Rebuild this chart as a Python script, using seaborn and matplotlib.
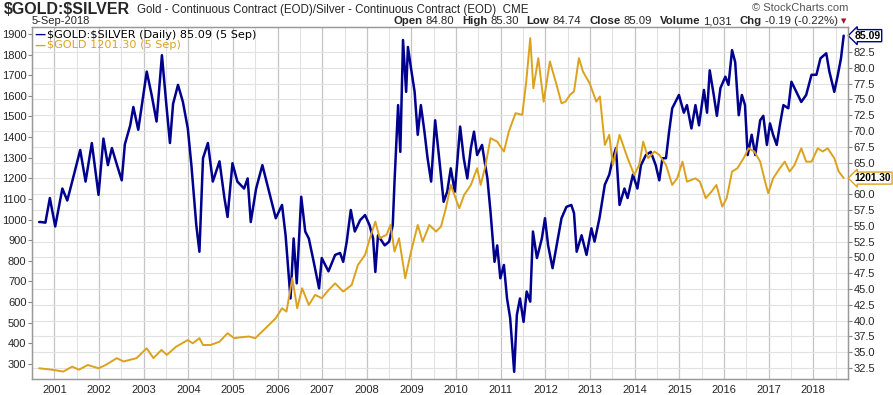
import matplotlib
matplotlib.use("Agg")
import matplotlib.pyplot as plt
import matplotlib.transforms as mtransforms
import seaborn as sns
import pandas as pd

# gold / silver ratio (right axis), decimal years
ratio_x = [2000.66, 2000.70, 2000.80, 2000.90, 2001.02, 2001.18, 2001.29, 2001.40, 2001.58, 2001.70,
           2001.84, 2001.99, 2002.10, 2002.20, 2002.29, 2002.40, 2002.51, 2002.58, 2002.70, 2002.77,
           2002.88, 2003.07, 2003.18, 2003.29, 2003.41, 2003.51, 2003.59, 2003.66, 2003.77, 2003.88,
           2003.99, 2004.07, 2004.18, 2004.25, 2004.33, 2004.44, 2004.55, 2004.70, 2004.81, 2004.88,
           2004.99, 2005.10, 2005.25, 2005.33, 2005.40, 2005.52, 2005.66, 2005.81, 2005.96, 2006.10,
           2006.18, 2006.29, 2006.36, 2006.43, 2006.53, 2006.62, 2006.70, 2006.81, 2006.93, 2006.99,
           2007.14, 2007.29, 2007.40, 2007.47, 2007.55, 2007.64, 2007.73, 2007.85, 2007.96, 2008.06,
           2008.14, 2008.19, 2008.25, 2008.40, 2008.50, 2008.58, 2008.62, 2008.70, 2008.75, 2008.81,
           2008.88, 2008.92, 2008.99, 2009.07, 2009.14, 2009.21, 2009.29, 2009.36, 2009.44, 2009.53,
           2009.62, 2009.72, 2009.80, 2009.88, 2009.97, 2010.02, 2010.09, 2010.17, 2010.25, 2010.33,
           2010.40, 2010.47, 2010.58, 2010.70, 2010.77, 2010.86, 2010.92, 2010.99, 2011.07, 2011.14,
           2011.21, 2011.30, 2011.36, 2011.43, 2011.51, 2011.58, 2011.66, 2011.72, 2011.81, 2011.92,
           2011.99, 2012.06, 2012.16, 2012.25, 2012.36, 2012.47, 2012.58, 2012.64, 2012.70, 2012.81,
           2012.92, 2013.03, 2013.10, 2013.21, 2013.33, 2013.43, 2013.51, 2013.58, 2013.66, 2013.77,
           2013.84, 2013.96, 2014.06, 2014.14, 2014.25, 2014.36, 2014.47, 2014.55, 2014.62, 2014.70,
           2014.77, 2014.84, 2014.99, 2015.10, 2015.17, 2015.27, 2015.36, 2015.44, 2015.55, 2015.62,
           2015.68, 2015.77, 2015.84, 2015.92, 2016.03, 2016.10, 2016.18, 2016.25, 2016.33, 2016.40,
           2016.47, 2016.53, 2016.62, 2016.70, 2016.81, 2016.88, 2016.96, 2017.03, 2017.10, 2017.18,
           2017.25, 2017.33, 2017.44, 2017.51, 2017.62, 2017.73, 2017.84, 2017.96, 2018.07, 2018.16,
           2018.29, 2018.36, 2018.47, 2018.55, 2018.62, 2018.68]
ratio_y = [55.6, 55.6, 55.5, 59.4, 54.9, 60.9, 59.0, 62.0, 67.0, 62.0,
           68.1, 59.9, 68.8, 64.6, 67.3, 64.7, 62.2, 67.9, 70.9, 73.8,
           70.2, 79.4, 75.7, 71.5, 82.0, 74.1, 68.1, 74.3, 77.3, 74.6,
           70.4, 64.6, 55.1, 50.9, 65.7, 68.1, 62.0, 65.2, 59.4, 56.4,
           64.9, 62.0, 60.9, 62.5, 55.6, 60.9, 64.6, 60.4, 56.2, 58.3,
           53.5, 43.5, 53.0, 45.9, 59.6, 54.1, 53.0, 49.3, 45.1, 49.9,
           47.8, 50.4, 50.7, 49.3, 52.5, 57.5, 54.1, 55.9, 56.7, 55.1,
           53.0, 47.7, 53.5, 51.9, 52.5, 55.1, 62.0, 74.1, 66.7, 84.4,
           76.2, 83.3, 79.9, 76.2, 69.4, 74.1, 69.9, 65.7, 62.0, 71.7,
           65.7, 58.8, 60.4, 64.1, 60.4, 64.6, 70.7, 65.7, 62.5, 67.3,
           69.9, 66.2, 67.8, 62.5, 57.2, 49.3, 51.9, 46.7, 48.8, 43.5,
           40.4, 31.9, 40.9, 43.5, 39.8, 44.6, 43.0, 54.1, 49.9, 53.0,
           56.2, 51.9, 48.3, 51.9, 56.2, 58.0, 58.3, 57.0, 50.9, 53.5,
           50.4, 54.6, 52.5, 56.2, 61.5, 63.1, 65.7, 67.3, 58.3, 60.9,
           59.4, 63.1, 60.9, 64.6, 66.2, 66.7, 64.6, 62.2, 65.7, 65.7,
           69.9, 73.6, 75.7, 72.9, 74.1, 70.4, 74.1, 70.9, 76.5, 72.9,
           79.6, 75.7, 72.4, 76.8, 78.6, 77.3, 82.8, 80.9, 72.5, 75.7,
           74.1, 66.2, 69.4, 66.2, 71.7, 72.4, 67.8, 71.2, 69.4, 67.8,
           70.9, 74.1, 73.6, 77.8, 76.2, 74.6, 75.7, 78.9, 78.9, 81.5,
           82.3, 79.4, 76.2, 78.9, 81.5, 85.09]

# gold price (left axis)
gold_x = [2000.66, 2000.95, 2001.20, 2001.40, 2001.55, 2001.75, 2001.99, 2002.15, 2002.40, 2002.55,
          2002.70, 2002.84, 2003.07, 2003.22, 2003.40, 2003.52, 2003.73, 2003.99, 2004.10, 2004.25,
          2004.33, 2004.50, 2004.70, 2004.88, 2005.03, 2005.20, 2005.36, 2005.50, 2005.73, 2005.96,
          2006.10, 2006.20, 2006.33, 2006.44, 2006.55, 2006.70, 2006.84, 2006.99, 2007.15, 2007.29,
          2007.47, 2007.66, 2007.80, 2007.96, 2008.07, 2008.19, 2008.29, 2008.44, 2008.53, 2008.62,
          2008.72, 2008.86, 2008.99, 2009.14, 2009.25, 2009.40, 2009.55, 2009.66, 2009.77, 2009.88,
          2010.07, 2010.18, 2010.33, 2010.47, 2010.55, 2010.66, 2010.77, 2010.92, 2011.07, 2011.18,
          2011.33, 2011.48, 2011.57, 2011.66, 2011.73, 2011.84, 2011.96, 2012.10, 2012.25, 2012.36,
          2012.45, 2012.55, 2012.64, 2012.75, 2012.84, 2012.99, 2013.14, 2013.22, 2013.33, 2013.43,
          2013.51, 2013.66, 2013.84, 2013.99, 2014.10, 2014.19, 2014.30, 2014.44, 2014.55, 2014.70,
          2014.84, 2014.95, 2015.07, 2015.17, 2015.36, 2015.46, 2015.59, 2015.72, 2015.83, 2015.96,
          2016.06, 2016.18, 2016.30, 2016.44, 2016.55, 2016.68, 2016.81, 2016.92, 2016.99, 2017.10,
          2017.25, 2017.36, 2017.47, 2017.58, 2017.73, 2017.84, 2017.96, 2018.10, 2018.21, 2018.32,
          2018.47, 2018.57, 2018.68]
gold_y = [279, 272, 263, 287, 272, 295, 279, 295, 328, 312,
          320, 328, 376, 328, 368, 344, 384, 416, 400, 425,
          392, 392, 408, 449, 425, 430, 433, 425, 473, 522,
          570, 554, 716, 570, 667, 586, 635, 619, 660, 691,
          651, 683, 780, 829, 910, 990, 910, 926, 974, 845,
          910, 716, 845, 974, 893, 974, 942, 966, 1055, 1168,
          1055, 1120, 1168, 1249, 1168, 1265, 1395, 1378, 1330, 1427,
          1516, 1508, 1669, 1880, 1637, 1783, 1572, 1767, 1653, 1564,
          1572, 1605, 1621, 1783, 1718, 1661, 1572, 1597, 1362, 1411,
          1265, 1411, 1298, 1217, 1265, 1378, 1298, 1330, 1314, 1265,
          1168, 1200, 1281, 1184, 1200, 1184, 1104, 1136, 1168, 1063,
          1104, 1233, 1249, 1298, 1346, 1330, 1281, 1184, 1128, 1200,
          1249, 1281, 1233, 1265, 1346, 1281, 1281, 1346, 1330, 1346,
          1298, 1233, 1201.30]

years = list(range(2001, 2019))
ratio_ticks = [32.5 + 2.5 * i for i in range(21)]
gold_ticks = list(range(300, 2000, 100))

NAVY = "#00008f"
GOLD = "#dca21e"
ARIAL = "Liberation Sans"

df_ratio = pd.DataFrame({"year": ratio_x, "ratio": ratio_y})
df_gold = pd.DataFrame({"year": gold_x, "gold": gold_y})

sns.set_style("white")
plt.rcParams["font.family"] = [ARIAL, "DejaVu Sans"]

fig = plt.figure(figsize=(8.93, 3.95), dpi=100)
ax = fig.add_axes([32 / 893, 1 - 379 / 395, (848 - 32) / 893, (379 - 27) / 395])
axg = ax.twinx()

# ratio is the main series: right axis, gridlines
ax.yaxis.tick_right()
ax.yaxis.set_label_position("right")
axg.yaxis.tick_left()
axg.yaxis.set_label_position("left")

ax.set_xlim(2000.656, 2018.777)
ax.set_ylim(30.76, 86.46)
axg.set_ylim(227, 1934)

ax.set_xticks(years)
ax.set_xticks([y + 0.5 for y in years[:-1]] + [2000.5, 2018.5], minor=True)
ax.set_xticklabels([str(y) for y in years], fontsize=8)
ax.set_yticks(ratio_ticks)
# 62.5 sits under the gold value tag in the source
ax.set_yticklabels(["" if t == 62.5 else f"{t:.1f}" for t in ratio_ticks], fontsize=8)
axg.set_yticks(gold_ticks)
axg.set_yticklabels([str(t) for t in gold_ticks], fontsize=8)

ax.grid(axis="x", which="major", color="#c4c4c4", lw=0.9)
ax.grid(axis="x", which="minor", color="#e2e2e2", lw=0.8)
ax.grid(axis="y", which="major", color="#e2e2e2", lw=0.8)
ax.set_axisbelow(True)

ax.tick_params(axis="x", which="both", length=0, pad=4)
ax.tick_params(axis="y", length=3, width=0.8, color="#888888", pad=1)
axg.tick_params(axis="y", length=3, width=0.8, color="#888888", pad=1)

for a in (ax, axg):
    for s in a.spines.values():
        s.set_color("#999999")
        s.set_linewidth(0.9)

sns.lineplot(data=df_ratio, x="year", y="ratio", ax=ax, color=NAVY, lw=1.8)
sns.lineplot(data=df_gold, x="year", y="gold", ax=axg, color=GOLD, lw=1.4)
ax.set_xlabel("")
ax.set_ylabel("")
axg.set_ylabel("")

# gold above the ratio line, like the overlay in the source
axg.set_zorder(ax.get_zorder() + 1)
axg.patch.set_visible(False)

# last value tags at the right edge
blend_r = mtransforms.blended_transform_factory(ax.transAxes, ax.transData)
ax.text(1.008, ratio_y[-1], f"{ratio_y[-1]:.2f}", transform=blend_r, ha="left", va="center",
        fontsize=7.5, fontweight="bold", color="black", clip_on=False,
        bbox=dict(boxstyle="larrow,pad=0.1", fc="white", ec=NAVY, lw=1.0))
blend_g = mtransforms.blended_transform_factory(axg.transAxes, axg.transData)
axg.text(1.008, gold_y[-1], f"{gold_y[-1]:.2f}", transform=blend_g, ha="left", va="center",
         fontsize=7.3, fontweight="bold", color="black", clip_on=False,
         bbox=dict(boxstyle="larrow,pad=0.1", fc="white", ec=GOLD, lw=1.0))

# legend lines inside the plot
axg.text(0.003, 0.978, "\u2014", transform=axg.transAxes, color=NAVY, fontsize=8, fontweight="bold",
         va="center", family="DejaVu Sans")
axg.text(0.018, 0.978, "\\$GOLD:\\$SILVER (Daily) 85.09 (5 Sep)", transform=axg.transAxes,
         color="black", fontsize=8.1, va="center", family="DejaVu Sans")
axg.text(0.003, 0.948, "\u2014", transform=axg.transAxes, color=GOLD, fontsize=8, fontweight="bold",
         va="center", family="DejaVu Sans")
axg.text(0.018, 0.948, "\\$GOLD 1201.30 (5 Sep)", transform=axg.transAxes,
         color=GOLD, fontsize=8.1, va="center", family="DejaVu Sans")

# header
W, H = 893, 395
fig.text(4 / W, 1 - 10 / H, "\\$GOLD:\\$SILVER", fontsize=11.5, fontweight="bold", va="center")
fig.text(137 / W, 1 - 10 / H, "Gold - Continuous Contract (EOD)/Silver - Continuous Contract (EOD)  CME",
         fontsize=8.3, va="center")
fig.text(32 / W, 1 - 21 / H, "5-Sep-2018", fontsize=8, va="center")
fig.text(848 / W, 1 - 8 / H, "\u00a9 StockCharts.com", fontsize=8, color="#555555", ha="right", va="center")

# quote line, laid out right to left so it ends just before the red arrow
renderer = fig.canvas.get_renderer()
quote = [("Open", True), ("84.80", False), ("High", True), ("85.30", False),
         ("Low", True), ("84.74", False), ("Close", True), ("85.09", False),
         ("Volume", True), ("1,031", False), ("Chg", True), ("-0.19 (-0.22%)", False)]
right = 838
for txt, bold in reversed(quote):
    t = fig.text(right / W, 1 - 21 / H, txt, fontsize=8.2, fontweight="bold" if bold else "normal",
                 va="center", ha="right")
    width = t.get_window_extent(renderer).width
    # value follows its label closely, next label sits a bit further away
    gap = 8 if bold else 3
    right = right - width - gap
fig.text(841 / W, 1 - 21 / H, "\u25bc", fontsize=5, color="#a0102a", va="center", family="DejaVu Sans")

fig.savefig("out.png", dpi=100)
